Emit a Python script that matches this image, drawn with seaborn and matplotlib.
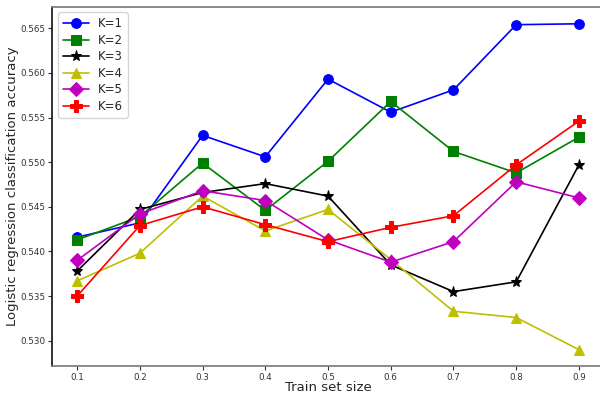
import matplotlib
matplotlib.use("Agg")
import matplotlib.pyplot as plt
import seaborn as sns
import pandas as pd

train_sizes = [0.1, 0.2, 0.3, 0.4, 0.5, 0.6, 0.7, 0.8, 0.9]
k1 = [0.5416, 0.5432, 0.5530, 0.5506, 0.5593, 0.5556, 0.5581, 0.5654, 0.5655]
k2 = [0.5413, 0.5439, 0.5499, 0.5446, 0.5501, 0.5568, 0.5512, 0.5488, 0.5528]
k3 = [0.5378, 0.5447, 0.5466, 0.5476, 0.5462, 0.5385, 0.5355, 0.5366, 0.5497]
k4 = [0.5367, 0.5398, 0.5462, 0.5423, 0.5447, 0.5391, 0.5333, 0.5326, 0.5290]
k5 = [0.5390, 0.5442, 0.5468, 0.5457, 0.5413, 0.5388, 0.5411, 0.5478, 0.5460]
k6 = [0.5350, 0.5429, 0.5450, 0.5430, 0.5411, 0.5427, 0.5440, 0.5497, 0.5546]
labels = ["K=1", "K=2", "K=3", "K=4", "K=5", "K=6"]
series = [k1, k2, k3, k4, k5, k6]
colors = ["b", "g", "k", "y", "m", "r"]
markers = ["o", "s", "*", "^", "D", "P"]
msizes = [7, 7, 8, 7, 7, 8]
yticks = [0.530, 0.535, 0.540, 0.545, 0.550, 0.555, 0.560, 0.565]

sns.set_style("white")
plt.rcParams['font.family'] = ['DejaVu Sans']

fig = plt.figure(figsize=(6, 3.95), dpi=100)
ax = fig.add_axes([0.0867, 0.0734, 0.92, 0.91])

for lab, vals, c, m, ms in zip(labels, series, colors, markers, msizes):
    df = pd.DataFrame({"x": train_sizes, "y": vals})
    sns.lineplot(data=df, x="x", y="y", ax=ax, color=c, marker=m,
                 markersize=ms, markeredgecolor=c, linewidth=1.2, label=lab)

ax.set_xlim(0.06, 0.94)
ax.set_ylim(0.52717, 0.56743)
ax.set_xticks(train_sizes)
ax.set_xticklabels([f"{v:.1f}" for v in train_sizes])
ax.set_yticks(yticks)
ax.set_yticklabels([f"{v:.3f}" for v in yticks])
ax.tick_params(axis="both", labelsize=6.3, length=3, width=0.8, direction="out",
               bottom=True, left=True, colors="#333333", pad=2)
ax.set_xlabel("Train set size", fontsize=9.5, labelpad=-1)
ax.set_ylabel("Logistic regression classification accuracy", fontsize=9.5, labelpad=1)

for side in ["top", "bottom", "right"]:
    ax.spines[side].set_color("#777777")
    ax.spines[side].set_linewidth(1.2)
ax.spines["left"].set_color("#111111")
ax.spines["left"].set_linewidth(1.2)

leg = ax.legend(loc="upper left", fontsize=8.5, frameon=True, borderpad=0.4,
                labelspacing=0.3, handlelength=2.2, handletextpad=0.8)
leg.get_frame().set_edgecolor("#cccccc")

fig.savefig("out.png", dpi=100)
